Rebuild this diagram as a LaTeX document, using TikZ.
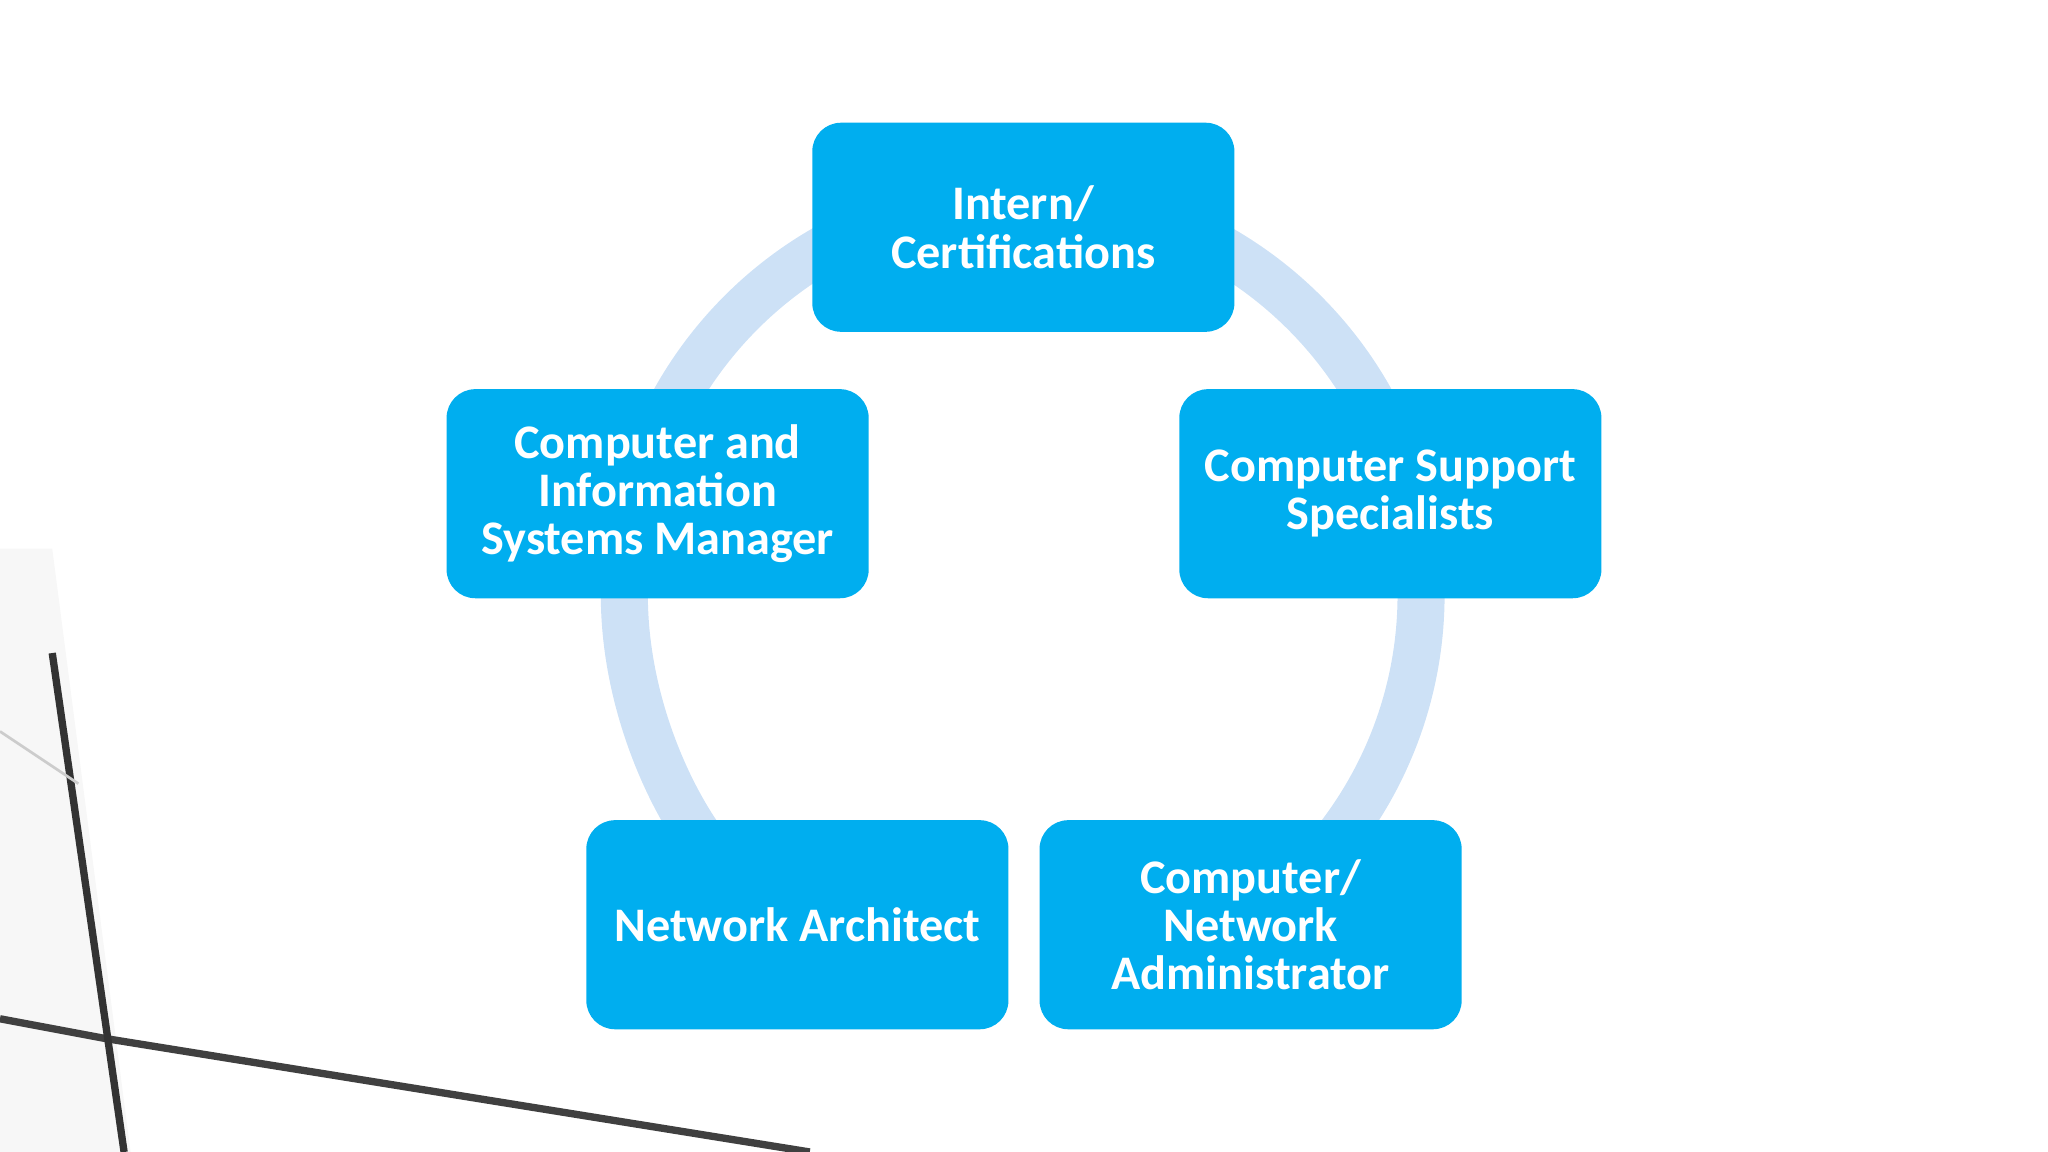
\documentclass[tikz,border=0pt]{standalone}
\usepackage{fontspec}
\setmainfont{Carlito}
\usetikzlibrary{arrows.meta}
\definecolor{boxblue}{RGB}{0,174,239}
\definecolor{ringblue}{RGB}{205,225,246}
\begin{document}
\begin{tikzpicture}[x=0.01cm,y=-0.01cm,
  stage/.style={fill=boxblue,rounded corners=0.22cm,minimum width=3.23cm,minimum height=1.6cm,
    text=white,align=center,font=\fontsize{10.5}{10.5}\selectfont\bfseries,inner sep=0pt}]
\useasboundingbox (0,0) rectangle (1568,882);
% background lines
\fill[gray!6] (0,420) -- (40,420) -- (100,882) -- (0,882) -- cycle;
\draw[black!75,line width=1.6pt] (0,780) -- (80,795) -- (620,882);
\draw[black!80,line width=1.6pt] (40,500) -- (95,882);
\draw[gray!40,line width=0.6pt] (0,560) -- (60,600);
% ring
\draw[ringblue,line width=0.36cm,-{Triangle[width=0.85cm,length=0.5cm]}]
  (783,455) ++(85:305) arc[start angle=85,end angle=-235,radius=305];
% nodes
\node[stage] (top) at (783.5,174) {Intern/\\Certifications};
\node[stage] (right) at (1064.5,378) {Computer Support\\Specialists};
\node[stage] (br) at (957.5,708) {Computer/\\Network\\Administrator};
\node[stage] (bl) at (610.5,708) {Network Architect};
\node[stage] (left) at (503.5,378) {Computer and\\Information\\Systems Manager};
\end{tikzpicture}
\end{document}
